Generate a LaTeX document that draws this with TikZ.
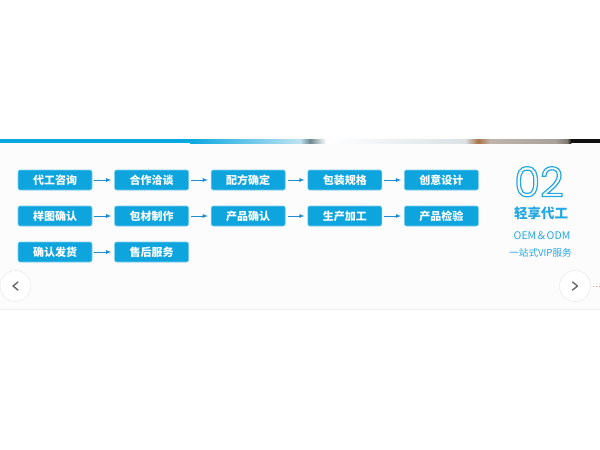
\documentclass[tikz,border=0pt]{standalone}
\usepackage{fontspec}
\usepackage{xcolor}
\usetikzlibrary{arrows,positioning}
\setmainfont{Noto Sans CJK SC}
\newfontfamily\cjk{Noto Sans CJK SC}
\newfontfamily\digitfont{Poppins}
\newcommand{\hollow}[1]{\special{pdf:literal direct 1 Tr 1.2 w}#1\special{pdf:literal direct 0 Tr}}
\begin{document}
\begin{tikzpicture}[x=1pt,y=-1pt,>=latex]
% Colors
\definecolor{boxcolor}{RGB}{14,165,223}
\definecolor{arrowcolor}{RGB}{30,140,210}
\definecolor{titlecolor}{RGB}{36,168,226}
\definecolor{panelcolor}{RGB}{252,252,252}
\definecolor{bandblue}{RGB}{10,168,224}
\definecolor{bandlight}{RGB}{190,226,242}
\definecolor{banddark}{RGB}{110,136,144}
\definecolor{bandpale}{RGB}{244,246,248}
\definecolor{bandgray}{RGB}{220,225,229}
\definecolor{bandbrown}{RGB}{168,116,72}
\definecolor{bandtaupe}{RGB}{192,180,170}
\definecolor{bandstone}{RGB}{168,162,156}
\definecolor{bandshade}{RGB}{128,120,112}
\definecolor{bandblack}{RGB}{16,16,16}
% Styles
\tikzstyle{stagebox}=[rectangle,rounded corners=2pt,fill=boxcolor,draw=boxcolor!55!white,line width=0.6pt,
  minimum width=74pt,minimum height=20pt,inner sep=0pt,text=white,font=\cjk\bfseries\fontsize{11}{11}\selectfont]
\tikzstyle{flow arrow}=[->,arrowcolor,line width=0.8pt,shorten <=2pt,shorten >=3pt]
\tikzstyle{round button}=[circle,fill=white,draw=black!8,line width=0.6pt,minimum size=31pt,inner sep=0pt]
\tikzstyle{chevron}=[draw=black!60,line width=1.4pt,line cap=round,line join=round]
\tikzstyle{side text}=[text=titlecolor,inner sep=0pt]
% The graphic
\useasboundingbox (0,0) rectangle (600,450);
\fill[panelcolor] (0,143) rectangle (600,309);
\draw[black!6,line width=0.6pt] (0,309.5) -- (600,309.5);
% top band
\fill[bandblue] (0,139) rectangle (190,143);
\foreach \a/\b/\ca/\cb in {190/300/bandblue/bandlight, 300/310/bandlight/banddark, 310/326/banddark/white,
  326/367/white/bandpale, 367/465/bandpale/bandgray, 465/478/bandgray/bandbrown, 478/490/bandbrown/bandtaupe,
  490/555/bandtaupe/bandstone, 555/567/bandstone/bandshade, 567/571/bandshade/bandblack}
  \shade[left color=\ca,right color=\cb] (\a,139) rectangle (\b+0.3,143);
\fill[bandblack] (571,139) rectangle (600,143);
% process steps
\foreach \n/\t [count=\i from 0] in {a/代工咨询,b/合作洽谈,c/配方确定,d/包装规格,e/创意设计}
  \node[stagebox] (one\n) at (55+96.6*\i,180) {\t};
\foreach \n/\t [count=\i from 0] in {a/样图确认,b/包材制作,c/产品确认,d/生产加工,e/产品检验}
  \node[stagebox] (two\n) at (55+96.6*\i,216) {\t};
\foreach \n/\t [count=\i from 0] in {a/确认发货,b/售后服务}
  \node[stagebox] (three\n) at (55+96.6*\i,252) {\t};
\foreach \p/\q in {a/b,b/c,c/d,d/e}
{
  \draw[flow arrow] (one\p) -- (one\q);
  \draw[flow arrow] (two\p) -- (two\q);
}
\draw[flow arrow] (threea) -- (threeb);
% side title
\node[side text,font=\digitfont\fontsize{41}{41}\selectfont,text height=29pt,text depth=0pt,anchor=south]
  (number) at (539,197) {\hollow{02}};
\node[side text,font=\cjk\bfseries\fontsize{13.5}{13.5}\selectfont] (title) at (541,213) {轻享代工};
\node[side text,font=\cjk\fontsize{10.5}{10.5}\selectfont] (oem) at (542,236) {OEM＆ODM};
\node[side text,font=\cjk\fontsize{9.6}{9.6}\selectfont] (vip) at (540.5,253) {一站式VIP服务};
% slider buttons
\node[round button] (prev) at (15.5,286) {};
\node[round button] (next) at (575,286) {};
\draw[chevron] ([shift={(2.5,-4)}]prev.center) -- ([shift={(-2.5,0)}]prev.center) -- ([shift={(2.5,4)}]prev.center);
\draw[chevron] ([shift={(-2.5,-4)}]next.center) -- ([shift={(2.5,0)}]next.center) -- ([shift={(-2.5,4)}]next.center);
\draw[red!45,dashed,line width=0.5pt,dash pattern=on 1.5pt off 1.5pt] (next.east) ++(2,0) -- (600,286);
\end{tikzpicture}
\end{document}
